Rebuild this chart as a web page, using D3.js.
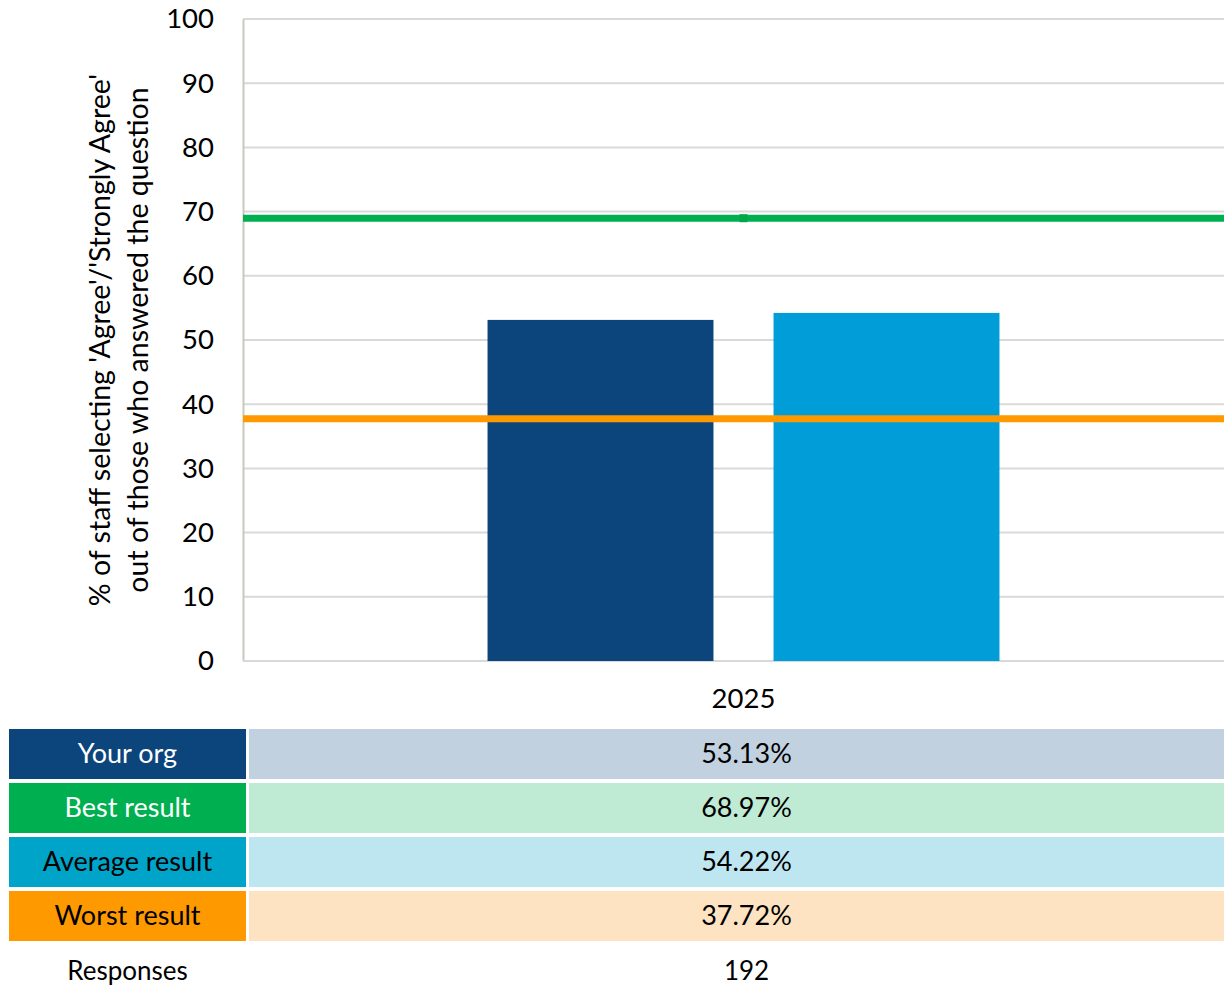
<!DOCTYPE html>
<html>
<head>
<meta charset="utf-8">
<script src="https://cdn.jsdelivr.net/npm/d3@7"></script>
<style>
  html, body { margin: 0; padding: 0; background: #fff; }
  svg { display: block; font-family: "Lato", "Noto Sans", sans-serif; }
</style>
</head>
<body>
<svg id="chart" width="1224" height="985"></svg>
<script>
// Survey result for one question, 2025
const years = ["2025"];
const barSeries = ["Your org", "Average result"];
const barValues = [53.13, 54.22];
const bestValue = 68.97;
const worstValue = 37.72;
const yTicks = [0, 10, 20, 30, 40, 50, 60, 70, 80, 90, 100];
const tableLabels = ["Your org", "Best result", "Average result", "Worst result"];
const tableValues = [53.13, 68.97, 54.22, 37.72];
const responses = 192;

const colors = {
  "Your org": "#0b457c",
  "Best result": "#00b050",
  "Average result": "#009dd9",
  "Worst result": "#fe9a00"
};
const cellColors = {
  "Your org": "#0b457c",
  "Best result": "#00b050",
  "Average result": "#00a4c9",
  "Worst result": "#fe9a00"
};
const lightColors = {
  "Your org": "#c2d1e0",
  "Best result": "#bfead3",
  "Average result": "#bee6f1",
  "Worst result": "#fee3c2"
};
const labelText = {
  "Your org": "#ffffff",
  "Best result": "#ffffff",
  "Average result": "#000000",
  "Worst result": "#000000"
};

const svg = d3.select("#chart");
const plot = { left: 243, right: 1244, top: 19, bottom: 661 };
const FONT = "Lato, 'Noto Sans', sans-serif";

const x = d3.scaleBand().domain(years).range([plot.left, plot.right]);
const xSeries = d3.scaleBand().domain(barSeries)
  .range([0, x.bandwidth()]).paddingInner(0.21).paddingOuter(0.855);
const y = d3.scaleLinear().domain([0, 100]).range([plot.bottom, plot.top]);

// gridlines
svg.append("g")
  .selectAll("line")
  .data(yTicks.filter(d => d > 0))
  .join("line")
  .attr("x1", plot.left).attr("x2", plot.right)
  .attr("y1", d => y(d)).attr("y2", d => y(d))
  .attr("stroke", "#d9d9d9").attr("stroke-width", 2);

// y axis
const yAxis = d3.axisLeft(y).tickValues(yTicks).tickSize(0).tickPadding(29);
const gy = svg.append("g").attr("transform", `translate(${plot.left},0)`).call(yAxis);
gy.select(".domain").attr("stroke", "#c9c9c0").attr("stroke-width", 2);
gy.selectAll("text").attr("font-size", 27.5).attr("fill", "#000")
  .attr("font-family", FONT);

// bottom baseline
svg.append("line")
  .attr("x1", plot.left).attr("x2", plot.right)
  .attr("y1", y(0)).attr("y2", y(0))
  .attr("stroke", "#d9d9d9").attr("stroke-width", 2);

// x axis labels
const xAxis = d3.axisBottom(x).tickSize(0).tickPadding(27);
const gx = svg.append("g").attr("transform", `translate(0,${plot.bottom})`).call(xAxis);
gx.select(".domain").remove();
gx.selectAll("text").attr("font-size", 27.5).attr("fill", "#000")
  .attr("font-family", FONT);

// bars
svg.append("g")
  .selectAll("rect")
  .data(barSeries.map((s, i) => ({ s, v: barValues[i] })))
  .join("rect")
  .attr("x", d => x("2025") + xSeries(d.s))
  .attr("width", xSeries.bandwidth())
  .attr("y", d => y(d.v))
  .attr("height", d => y(0) - y(d.v))
  .attr("fill", d => colors[d.s]);

// best / worst reference lines
const refLines = [
  { name: "Best result", v: bestValue },
  { name: "Worst result", v: worstValue }
];
svg.append("g")
  .selectAll("line")
  .data(refLines)
  .join("line")
  .attr("x1", plot.left).attr("x2", plot.right)
  .attr("y1", d => y(d.v)).attr("y2", d => y(d.v))
  .attr("stroke", d => colors[d.name]).attr("stroke-width", 7);

// point marker on the best line
svg.append("rect")
  .attr("x", x("2025") + x.bandwidth() / 2 - 4)
  .attr("y", y(bestValue) - 4)
  .attr("width", 8).attr("height", 8)
  .attr("fill", "#00a84a");

// y axis title
const title = svg.append("text")
  .attr("transform", `translate(100,${(plot.top + plot.bottom) / 2}) rotate(-90)`)
  .attr("text-anchor", "middle")
  .attr("font-size", 28.5).attr("fill", "#000");
title.append("tspan").attr("x", 0).attr("dy", "0.35em")
  .text("% of staff selecting 'Agree'/'Strongly Agree'");
title.append("tspan").attr("x", 0).attr("dy", 38)
  .text("out of those who answered the question");

// data table below the chart
const rowTop = 729, rowH = 50, rowGap = 4;
const labelX0 = 9, labelX1 = 246, valueX0 = 249, valueX1 = 1244;
const rows = svg.append("g").selectAll("g")
  .data(tableLabels.map((l, i) => ({ l, v: tableValues[i], i })))
  .join("g")
  .attr("transform", d => `translate(0,${rowTop + d.i * (rowH + rowGap)})`);

rows.append("rect")
  .attr("x", labelX0).attr("width", labelX1 - labelX0)
  .attr("height", rowH).attr("fill", d => cellColors[d.l]);
rows.append("rect")
  .attr("x", valueX0).attr("width", valueX1 - valueX0)
  .attr("height", rowH).attr("fill", d => lightColors[d.l]);
rows.append("text")
  .attr("x", (labelX0 + labelX1) / 2).attr("y", rowH / 2).attr("dy", "0.35em")
  .attr("text-anchor", "middle").attr("font-size", 27)
  .attr("fill", d => labelText[d.l]).text(d => d.l);
rows.append("text")
  .attr("x", (valueX0 + valueX1) / 2).attr("y", rowH / 2).attr("dy", "0.35em")
  .attr("text-anchor", "middle").attr("font-size", 27)
  .attr("fill", "#000").text(d => d.v.toFixed(2) + "%");

// responses row
const respY = rowTop + 4 * (rowH + rowGap) + 26;
svg.append("text")
  .attr("x", (labelX0 + labelX1) / 2).attr("y", respY).attr("dy", "0.35em")
  .attr("text-anchor", "middle").attr("font-size", 26).attr("fill", "#000")
  .text("Responses");
svg.append("text")
  .attr("x", (valueX0 + valueX1) / 2).attr("y", respY).attr("dy", "0.35em")
  .attr("text-anchor", "middle").attr("font-size", 26).attr("fill", "#000")
  .text(responses);
</script>
</body>
</html>
